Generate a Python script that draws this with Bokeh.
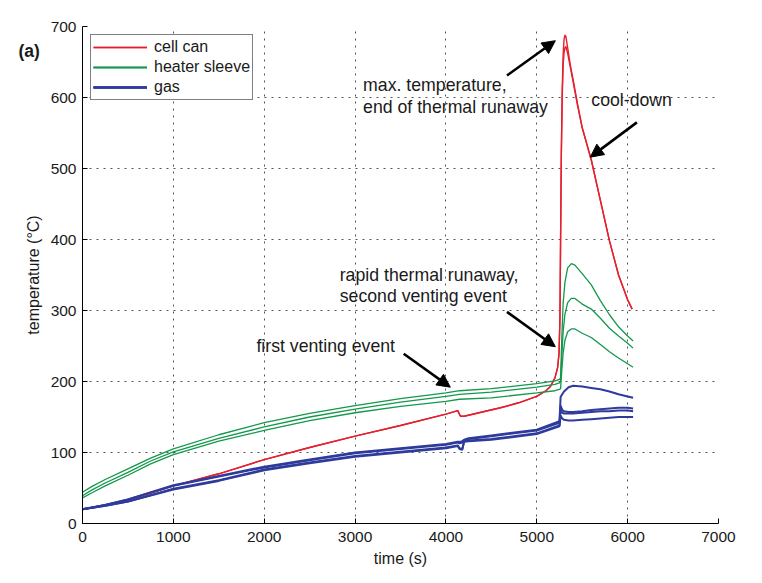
from bokeh.plotting import figure
from bokeh.models import (Range1d, FixedTicker, Legend, LegendItem, Label, Arrow, NormalHead)
from bokeh.embed import file_html
from bokeh.resources import INLINE

# ---------------- data ----------------
x_ticks = [0, 1000, 2000, 3000, 4000, 5000, 6000, 7000]
y_ticks = [0, 100, 200, 300, 400, 500, 600, 700]

# cell can (two thermocouples, differ only near the peak)
t_can = [0, 250, 500, 750, 1000, 1500, 2000, 2500, 3000, 3500, 4000, 4130, 4160, 4200,
         4400, 4600, 4800, 5000, 5100, 5150, 5200, 5230, 5245, 5255, 5262, 5270, 5280,
         5290, 5300, 5310, 5320, 5340, 5370, 5400, 5450, 5500, 5600, 5700, 5800, 5900,
         6000, 6050]
can_1 = [20, 26, 33, 43, 53, 70, 90, 107, 123, 138, 154, 159, 151, 151,
         157, 163, 170, 179, 187, 193, 205, 220, 240, 290, 400, 520, 610,
         660, 682, 688, 686, 670, 645, 625, 590, 558, 512, 455, 398, 350,
         315, 302]
can_2 = [20, 26, 33, 43, 53, 70, 90, 107, 123, 138, 154, 159, 151, 151,
         157, 163, 170, 179, 187, 193, 205, 220, 240, 290, 400, 520, 600,
         645, 663, 670, 672, 662, 642, 622, 588, 557, 512, 455, 398, 350,
         315, 302]

# heater sleeve (three thermocouples)
t_hs = [0, 100, 250, 500, 750, 1000, 1500, 2000, 2500, 3000, 3500, 4000, 4150, 4500,
        5000, 5200, 5250, 5262, 5275, 5290, 5310, 5340, 5380, 5420, 5500, 5600, 5700,
        5800, 5900, 6000, 6060]
hs_1 = [44, 52, 62, 77, 92, 105, 125, 142, 155, 166, 176, 184, 187, 190,
        197, 201, 203, 205, 260, 310, 340, 360, 366, 364, 352, 336, 314,
        294, 277, 264, 257]
hs_2 = [39, 47, 57, 72, 88, 101, 120, 136, 150, 161, 171, 179, 182, 185,
        192, 196, 198, 200, 235, 270, 295, 311, 317, 317, 309, 302, 289,
        275, 264, 254, 247]
hs_3 = [36, 43, 53, 68, 84, 97, 116, 131, 145, 156, 165, 172, 175, 177,
        184, 187, 189, 190, 215, 240, 258, 270, 274, 274, 268, 262, 252,
        242, 233, 225, 220]

# gas (four thermocouples)
t_gas = [0, 250, 500, 1000, 1500, 2000, 2500, 3000, 3500, 4000, 4130, 4150, 4180, 4200,
         4250, 4500, 5000, 5250, 5262, 5280, 5300, 5350, 5400, 5500, 5600, 5700, 5800,
         5900, 6000, 6060]
gas_1 = [20, 26, 34, 54, 67, 80, 90, 100, 106, 112, 115, 115, 116, 118,
         120, 124, 132, 144, 178, 182, 186, 192, 194, 193, 191, 189, 186,
         182, 179, 177]
gas_2 = [20, 26, 34, 53, 66, 79, 89, 99, 105, 111, 114, 113, 114, 117,
         119, 123, 131, 142, 166, 160, 158, 157, 157, 158, 160, 161, 162,
         163, 163, 162]
gas_3 = [20, 25, 31, 49, 61, 76, 86, 95, 101, 107, 110, 106, 105, 116,
         117, 119, 127, 138, 160, 156, 155, 155, 155, 156, 157, 158, 158,
         159, 159, 158]
gas_4 = [20, 25, 31, 48, 60, 75, 85, 94, 100, 106, 109, 105, 104, 115,
         116, 118, 126, 137, 152, 148, 146, 145, 145, 146, 147, 148, 149,
         150, 150, 150]

legend_labels = ["cell can", "heater sleeve", "gas"]

# ---------------- styling ----------------
RED = "#e5202e"
GREEN = "#13984c"
BLUE = "#2f3b9c"
FONT = "Liberation Sans"
TXT = "#1a1a1a"

p = figure(frame_width=636, frame_height=497,
           min_border_left=82, min_border_right=36, min_border_top=26, min_border_bottom=52,
           x_range=Range1d(0, 7000), y_range=Range1d(0, 700),
           output_backend="svg", toolbar_location=None,
           background_fill_color="white", border_fill_color="white")
p.outline_line_color = None

r_can1 = p.line(t_can, can_1, line_color=RED, line_width=1.4)
r_can2 = p.line(t_can, can_2, line_color=RED, line_width=1.4)
r_hs = [p.line(t_hs, s, line_color=GREEN, line_width=1.3) for s in (hs_1, hs_2, hs_3)]
r_gas = [p.line(t_gas, s, line_color=BLUE, line_width=2.0) for s in (gas_1, gas_2, gas_3, gas_4)]

# axes
p.xaxis.ticker = FixedTicker(ticks=x_ticks)
p.yaxis.ticker = FixedTicker(ticks=y_ticks)
for ax in (p.xaxis, p.yaxis):
    ax.axis_line_color = "black"
    ax.axis_line_width = 1
    ax.major_tick_in = 5
    ax.major_tick_out = 0
    ax.major_tick_line_color = "black"
    ax.minor_tick_line_color = None
    ax.major_label_text_font = FONT
    ax.major_label_text_font_size = "15.5px"
    ax.major_label_text_color = TXT
    ax.axis_label_text_font = FONT
    ax.axis_label_text_font_size = "16px"
    ax.axis_label_text_font_style = "normal"
    ax.axis_label_text_color = TXT
p.xaxis.major_label_standoff = 8
p.yaxis.major_label_standoff = 6
p.xaxis.axis_label = "time (s)"
p.yaxis.axis_label = "temperature (°C)"
p.xaxis.axis_label_standoff = 5
p.yaxis.axis_label_standoff = 6

for g in (p.xgrid, p.ygrid):
    g.grid_line_color = "#555555"
    g.grid_line_dash = "2 5"
    g.grid_line_width = 1

# legend
legend = Legend(items=[LegendItem(label=legend_labels[0], renderers=[r_can1, r_can2]),
                       LegendItem(label=legend_labels[1], renderers=r_hs),
                       LegendItem(label=legend_labels[2], renderers=r_gas)],
                location="top_left", margin=8, padding=2, spacing=0,
                glyph_width=54, glyph_height=20, label_height=20, label_standoff=7,
                label_text_font=FONT, label_text_font_size="16px", label_text_color=TXT,
                border_line_color="black", border_line_width=1,
                background_fill_color="white", background_fill_alpha=1.0)
p.add_layout(legend)

# annotations: text (left edge, vertical centre) in data units
notes = [
    ("max. temperature,", 3088, 617),
    ("end of thermal runaway", 3088, 587),
    ("cool-down", 5600, 596),
    ("rapid thermal runaway,", 2831, 350),
    ("second venting event", 2831, 321),
    ("first venting event", 1914, 250),
]
for txt, x, y in notes:
    p.add_layout(Label(x=x, y=y, text=txt, text_align="left", text_baseline="middle",
                       text_font=FONT, text_font_size="17.7px", text_color=TXT))

# panel tag, placed in the left side panel (outside the frame)
p.add_layout(Label(x=18, y=473, x_units="screen", y_units="screen", text="(a)",
                   text_align="left", text_baseline="middle",
                   text_font=FONT, text_font_size="17.5px", text_font_style="bold",
                   text_color=TXT), "left")

arrows = [
    (4672, 631, 5204, 680),
    (6102, 565, 5589, 516),
    (4672, 298, 5204, 249),
    (3535, 239, 4048, 192),
]
for xs, ys, xe, ye in arrows:
    p.add_layout(Arrow(end=NormalHead(size=13, fill_color="black", line_color="black"),
                       x_start=xs, y_start=ys, x_end=xe, y_end=ye,
                       line_color="black", line_width=2.6))

open("out.html", "w").write(file_html(p, INLINE))
